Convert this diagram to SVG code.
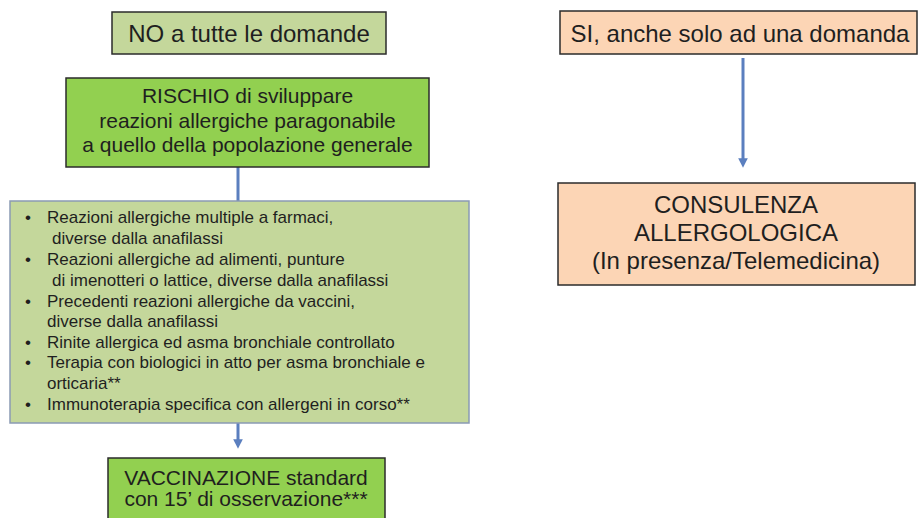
<svg xmlns="http://www.w3.org/2000/svg" width="920" height="518" viewBox="0 0 920 518">
<style>
text{font-family:"Liberation Sans",Arial,sans-serif;fill:#1f1f1f}
.t24{font-size:24px;text-anchor:middle}
.t21{font-size:21px;text-anchor:middle}
.t17{font-size:17px}
.lightg{fill:#c4d79b;stroke:#2b2b2b;stroke-width:1.5}
.brightg{fill:#92d050;stroke:#2b2b2b;stroke-width:1.5}
.peach{fill:#fcd5b5;stroke:#2b2b2b;stroke-width:1.5}
.listbox{fill:#c4d79b;stroke:#8a9ab4;stroke-width:1.5}
.conn{stroke:#5b7fbf;stroke-width:3;fill:none}
</style>
<defs>
<marker id="arr" viewBox="0 0 10 10" refX="5" refY="5" markerWidth="3.2" markerHeight="3.2" orient="auto">
<path d="M0,0 L10,5 L0,10 z" fill="#5b7fbf"/>
</marker>
</defs>
<rect width="920" height="518" fill="#ffffff"/>
<g id="connectors">
<line class="conn" x1="238" y1="167" x2="238" y2="201"/>
<line class="conn" x1="238" y1="423" x2="238" y2="444" marker-end="url(#arr)"/>
<line class="conn" x1="743" y1="58" x2="743" y2="163" marker-end="url(#arr)"/>
</g>
<g id="node-no">
<rect class="lightg" x="112" y="12" width="274" height="42"/>
<text class="t24" x="249" y="42">NO a tutte le domande</text>
</g>
<g id="node-rischio">
<rect class="brightg" x="66" y="78" width="363" height="89"/>
<text class="t21" x="247.5" y="103">RISCHIO di sviluppare</text>
<text class="t21" x="247.5" y="127.5">reazioni allergiche paragonabile</text>
<text class="t21" x="247.5" y="152">a quello della popolazione generale</text>
</g>
<g id="node-list">
<rect class="listbox" x="10" y="201" width="459" height="222"/>
<g class="t17">
<text x="25" y="223">•</text><text x="47" y="223">Reazioni allergiche multiple a farmaci,</text>
<text x="52" y="243.5">diverse dalla anafilassi</text>
<text x="25" y="265">•</text><text x="47" y="265">Reazioni allergiche ad alimenti, punture</text>
<text x="52" y="285.5">di imenotteri o lattice, diverse dalla anafilassi</text>
<text x="25" y="307">•</text><text x="47" y="307">Precedenti reazioni allergiche da vaccini,</text>
<text x="47" y="327">diverse dalla anafilassi</text>
<text x="25" y="347.5">•</text><text x="47" y="347.5">Rinite allergica ed asma bronchiale controllato</text>
<text x="25" y="368">•</text><text x="47" y="368">Terapia con biologici in atto per asma bronchiale e</text>
<text x="47" y="388.5">orticaria**</text>
<text x="25" y="410">•</text><text x="47" y="410">Immunoterapia specifica con allergeni in corso**</text>
</g>
</g>
<g id="node-vaccinazione">
<rect class="brightg" x="108" y="458" width="277" height="64"/>
<text class="t21" x="246" y="484.5">VACCINAZIONE standard</text>
<text class="t21" x="246" y="506">con 15’  di osservazione***</text>
</g>
<g id="node-si">
<rect class="peach" x="560" y="11" width="357" height="43"/>
<text class="t24" x="740" y="42">SI, anche solo ad una domanda</text>
</g>
<g id="node-consulenza">
<rect class="peach" x="558" y="183" width="357" height="102"/>
<text class="t24" x="736" y="213">CONSULENZA</text>
<text class="t24" x="736" y="241">ALLERGOLOGICA</text>
<text class="t24" x="736" y="269">(In presenza/Telemedicina)</text>
</g>
</svg>
